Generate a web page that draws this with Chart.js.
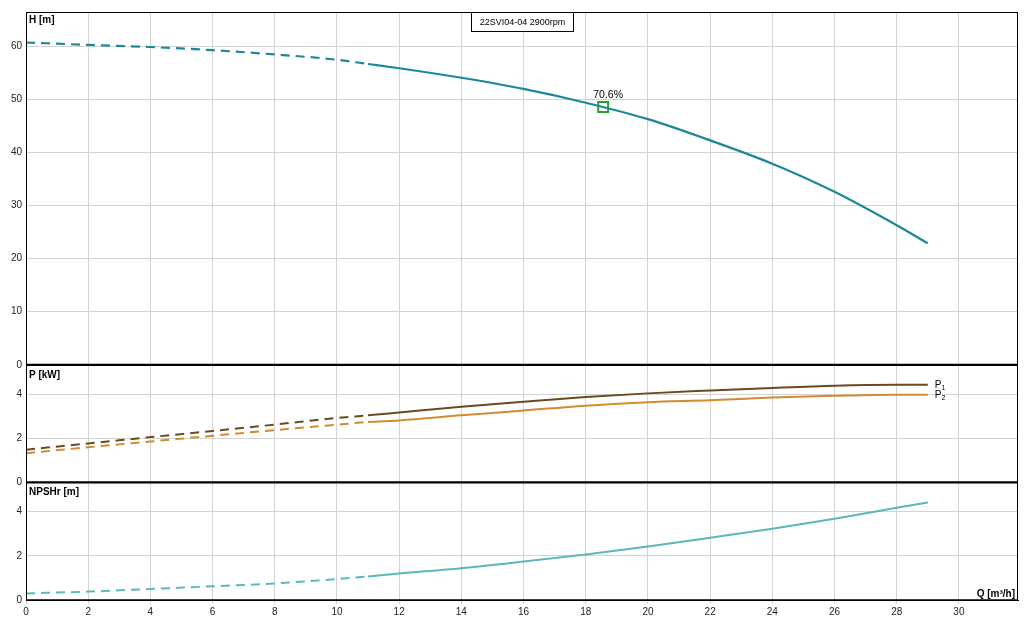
<!DOCTYPE html>
<html>
<head>
<meta charset="utf-8">
<script src="https://cdn.jsdelivr.net/npm/chart.js@4.4.1/dist/chart.umd.min.js"></script>
<style>
html,body{margin:0;padding:0;background:#fff;}
#wrap{width:1028px;height:625px;position:relative;}
</style>
</head>
<body>
<div id="wrap"><canvas id="c" width="1028" height="625"></canvas></div>
<script>
// ---- data ----
const flowQ   = [0, 2, 4, 6, 8, 10, 11, 12, 14, 16, 18, 20, 22, 24, 26, 28, 29];
const headH   = [60.75, 60.3, 59.9, 59.3, 58.5, 57.5, 56.7, 55.9, 54.1, 52.0, 49.4, 46.3, 42.3, 37.9, 32.6, 26.3, 22.9];
const powerP1 = [1.49, 1.77, 2.06, 2.34, 2.63, 2.93, 3.05, 3.18, 3.44, 3.67, 3.88, 4.05, 4.18, 4.30, 4.40, 4.44, 4.44];
const powerP2 = [1.33, 1.60, 1.86, 2.12, 2.38, 2.62, 2.75, 2.82, 3.05, 3.27, 3.49, 3.65, 3.74, 3.86, 3.94, 3.99, 3.99];
const npshR   = [0.30, 0.38, 0.50, 0.62, 0.75, 0.95, 1.07, 1.20, 1.44, 1.74, 2.06, 2.42, 2.82, 3.23, 3.68, 4.18, 4.42];
const dashedUntilQ = 11;
const dutyQ = [18.56];
const dutyH = [48.6];
const dutyLabel = '70.6%';
const titleText = '22SVI04-04 2900rpm';
const axisTitles = { H: 'H [m]', P: 'P [kW]', N: 'NPSHr [m]', Q: 'Q [m³/h]' };
const xTickStep = 2, xTickLast = 30;

const FONT = '"Liberation Sans", Arial, sans-serif';
const pts = (ys) => flowQ.map((q, i) => ({ x: q, y: ys[i] }));
const dashSeg = { borderDash: (ctx) => (ctx.p1.parsed.x <= dashedUntilQ ? [9, 6] : undefined) };

const gridColor = '#d3d3d3';

const overlay = {
  id: 'overlay',
  afterDraw(chart) {
    const { ctx, chartArea: a, scales } = chart;
    ctx.save();
    // outer frame
    ctx.strokeStyle = '#000';
    ctx.lineWidth = 1;
    ctx.strokeRect(a.left + 0.5, a.top + 0.5, a.right - a.left - 1, a.bottom - a.top);
    // panel separators
    ctx.lineWidth = 2.2;
    [scales.yH.bottom, scales.yP.bottom].forEach((y) => {
      ctx.beginPath(); ctx.moveTo(a.left, y); ctx.lineTo(a.right, y); ctx.stroke();
    });
    ctx.lineWidth = 1.6;
    ctx.beginPath(); ctx.moveTo(a.left, a.bottom); ctx.lineTo(a.right, a.bottom); ctx.stroke();

    // axis titles
    ctx.fillStyle = '#000';
    ctx.font = 'bold 10px ' + FONT;
    ctx.textAlign = 'left';
    ctx.textBaseline = 'alphabetic';
    ctx.fillText(axisTitles.H, a.left + 3, scales.yH.top + 11);
    ctx.fillText(axisTitles.P, a.left + 3, scales.yP.top + 13);
    ctx.fillText(axisTitles.N, a.left + 3, scales.yN.top + 13);
    ctx.textAlign = 'right';
    ctx.fillText(axisTitles.Q, a.right - 3, a.bottom - 3);

    // title box
    ctx.font = '9px ' + FONT;
    const tw = ctx.measureText(titleText).width;
    const bw = Math.round(tw + 16), bh = 19;
    const bx = Math.round((a.left + a.right) / 2 - bw / 2) + 0.5;
    ctx.lineWidth = 1;
    ctx.fillStyle = '#fff';
    ctx.fillRect(bx, a.top, bw, bh);
    ctx.strokeRect(bx, a.top + 0.5, bw, bh);
    ctx.fillStyle = '#000';
    ctx.textAlign = 'center';
    ctx.fillText(titleText, bx + bw / 2, a.top + 13);

    // duty point label
    const px = scales.x.getPixelForValue(dutyQ[0]);
    const py = scales.yH.getPixelForValue(dutyH[0]);
    ctx.font = '10.5px ' + FONT;
    ctx.textAlign = 'center';
    ctx.fillText(dutyLabel, px + 5, py - 9);

    // P1 / P2 labels
    const lastQ = flowQ[flowQ.length - 1];
    const ex = scales.x.getPixelForValue(lastQ) + 7;
    const e1 = scales.yP.getPixelForValue(powerP1[powerP1.length - 1]);
    const e2 = scales.yP.getPixelForValue(powerP2[powerP2.length - 1]);
    ctx.textAlign = 'left';
    [[e1, '1'], [e2, '2']].forEach(([y, s]) => {
      ctx.font = '10px ' + FONT;
      ctx.fillText('P', ex, y + 3);
      const w = ctx.measureText('P').width;
      ctx.font = '7px ' + FONT;
      ctx.fillText(s, ex + w, y + 5);
    });
    ctx.restore();
  }
};

const yTickCommon = { color: '#222', font: { family: FONT, size: 10 }, padding: 4, includeBounds: false };
const yFit = (s) => { s.width = 26; };

new Chart(document.getElementById('c'), {
  type: 'line',
  data: {
    datasets: [
      { label: 'H', data: pts(headH), yAxisID: 'yH', borderColor: '#1d8899', borderWidth: 2.2, pointRadius: 0, cubicInterpolationMode: 'monotone', segment: dashSeg },
      { label: 'P1', data: pts(powerP1), yAxisID: 'yP', borderColor: '#6a4a1f', borderWidth: 2, pointRadius: 0, cubicInterpolationMode: 'monotone', segment: dashSeg },
      { label: 'P2', data: pts(powerP2), yAxisID: 'yP', borderColor: '#d38a30', borderWidth: 2, pointRadius: 0, cubicInterpolationMode: 'monotone', segment: dashSeg },
      { label: 'NPSHr', data: pts(npshR), yAxisID: 'yN', borderColor: '#5cb8bb', borderWidth: 2, pointRadius: 0, cubicInterpolationMode: 'monotone', segment: dashSeg },
      { label: 'duty', data: dutyQ.map((q, i) => ({ x: q, y: dutyH[i] })), yAxisID: 'yH', showLine: false, pointStyle: 'rect', pointRadius: 7, borderColor: '#2ca02c', backgroundColor: 'rgba(0,0,0,0)', borderWidth: 2 }
    ]
  },
  options: {
    responsive: false,
    animation: false,
    events: [],
    layout: { padding: { top: 12, right: 10, left: 0, bottom: 0 } },
    plugins: { legend: { display: false }, tooltip: { enabled: false }, title: { display: false } },
    scales: {
      x: {
        type: 'linear', min: 0, max: 31.9,
        afterFit: (s) => { s.height = 25; },
        ticks: { stepSize: xTickStep, includeBounds: false, color: '#222', font: { family: FONT, size: 10 }, padding: 2, maxRotation: 0,
                 callback: (v) => (v <= xTickLast ? v : '') },
        grid: { color: gridColor, tickLength: 4, lineWidth: 1 },
        border: { color: '#000', width: 1 }
      },
      yN: {
        type: 'linear', position: 'left', stack: 'pump', stackWeight: 1, min: 0, max: 5.33,
        afterFit: yFit,
        ticks: Object.assign({ stepSize: 2 }, yTickCommon),
        grid: { color: gridColor, drawTicks: false },
        border: { color: '#000', width: 1 }
      },
      yP: {
        type: 'linear', position: 'left', stack: 'pump', stackWeight: 1, min: 0, max: 5.35,
        afterFit: yFit,
        ticks: Object.assign({ stepSize: 2 }, yTickCommon),
        grid: { color: gridColor, drawTicks: false },
        border: { color: '#000', width: 1 }
      },
      yH: {
        type: 'linear', position: 'left', stack: 'pump', stackWeight: 3, min: 0, max: 66.5,
        afterFit: yFit,
        ticks: Object.assign({ stepSize: 10 }, yTickCommon),
        grid: { color: gridColor, drawTicks: false },
        border: { color: '#000', width: 1 }
      }
    }
  },
  plugins: [overlay]
});
</script>
</body>
</html>
